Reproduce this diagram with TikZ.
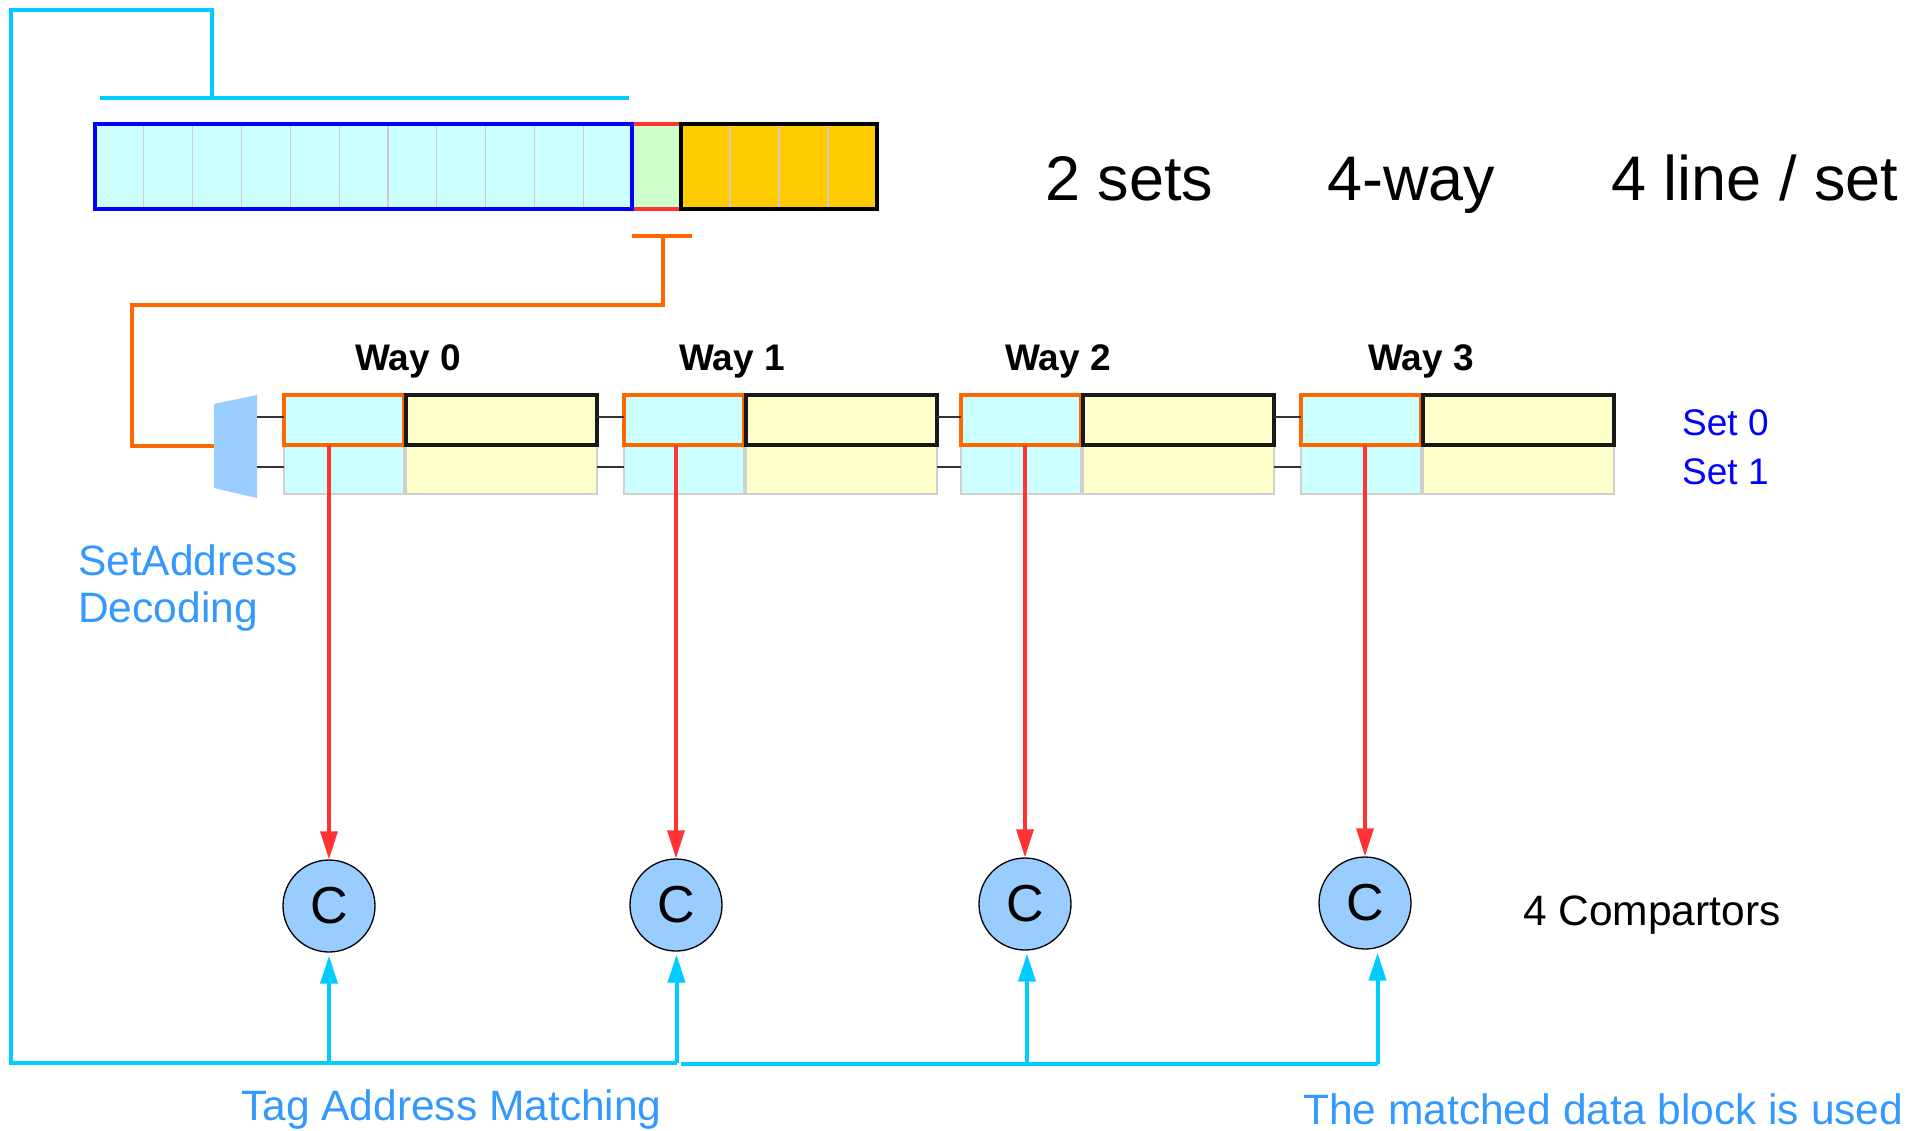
\documentclass[tikz,border=0pt]{standalone}
\usepackage{fontspec}
\setmainfont{Liberation Sans}
\usetikzlibrary{arrows.meta}
\definecolor{cyanline}{HTML}{00CCFF}
\definecolor{orangeline}{HTML}{FF6600}
\definecolor{redline}{HTML}{FF3333}
\definecolor{tagfill}{HTML}{CCFFFF}
\definecolor{datafill}{HTML}{FFFFCC}
\definecolor{setfill}{HTML}{CCFFCC}
\definecolor{offsfill}{HTML}{FFCC00}
\definecolor{decfill}{HTML}{99CCFF}
\definecolor{notetext}{HTML}{3399FF}
\definecolor{setblue}{HTML}{0000FF}
\definecolor{cellsep}{HTML}{D4C8CC}
\definecolor{faintedge}{HTML}{D0D0D0}

\begin{document}
\begin{tikzpicture}[x=1pt,y=-1pt,
  box/.style={rectangle,inner sep=0pt,outer sep=0pt},
  tagtop/.style={box,fill=tagfill,draw=orangeline,line width=3.8pt,minimum width=120pt,minimum height=50pt},
  datatop/.style={box,fill=datafill,draw=black!90,line width=4.2pt,minimum width=191pt,minimum height=50pt},
  taglow/.style={box,fill=tagfill,draw=faintedge,line width=1.5pt,minimum width=120pt,minimum height=49pt},
  datalow/.style={box,fill=datafill,draw=faintedge,line width=1.5pt,minimum width=191pt,minimum height=49pt},
  comparator/.style={circle,inner sep=0pt,minimum size=92pt,fill=decfill,draw=black,line width=1.3pt,
    font=\fontsize{52}{58}\selectfont},
  rowlink/.style={draw=black!80,line width=1.8pt},
  cyanwire/.style={draw=cyanline,line width=4pt},
  orangewire/.style={draw=orangeline,line width=3.8pt},
  redarrow/.style={draw=redline,line width=3.2pt,-{Triangle[length=28pt,width=17pt]}},
  cyanarrow/.style={draw=cyanline,line width=4pt,-{Triangle[length=28pt,width=17pt]},shorten >=3pt},
  label/.style={inner sep=0pt,anchor=base west},
  bigtext/.style={label,font=\fontsize{63}{70}\selectfont},
  notetxt/.style={label,text=notetext,font=\fontsize{42.5}{48}\selectfont},
  waylabel/.style={inner sep=0pt,anchor=base,font=\bfseries\fontsize{37}{42}\selectfont},
  setlabel/.style={label,text=setblue,font=\fontsize{37}{42}\selectfont}
]
\useasboundingbox (0,0) rectangle (1930,1130);

% ---- address register: tag | set | offset ----
\node[box,fill=setfill,minimum width=49pt,minimum height=85pt] (setfield) at (656.5,166.5) {};
\draw[redline,line width=4pt] (setfield.north west) -- (setfield.north east)
                              (setfield.south west) -- (setfield.south east);
\node[box,fill=tagfill,minimum width=537pt,minimum height=85pt] (tagfield) at (363.5,166.5) {};
\node[box,fill=offsfill,minimum width=196pt,minimum height=85pt] (offsfield) at (779,166.5) {};
\foreach \i in {1,...,10}
  \draw[cellsep,line width=1.2pt] ({95+48.82*\i},126) -- ({95+48.82*\i},207);
\foreach \xx in {730,779,828}
  \draw[cellsep,line width=1.2pt] (\xx,126) -- (\xx,207);
\draw[setblue,line width=4pt] (tagfield.north west) rectangle (tagfield.south east);
\draw[black,line width=4.2pt] (offsfield.north west) rectangle (offsfield.south east);

% ---- tag bus from the register to the comparators ----
\coordinate (tagbarL) at (100,98);
\coordinate (tagbarR) at (629,98);
\coordinate (tagtap) at (212,98);
\coordinate (topcorner) at (11,10);
\coordinate (botcorner) at (11,1063);
\coordinate (busA0) at (329,1063);
\coordinate (busA1) at (676.5,1063);
\coordinate (busB0) at (681,1064);
\coordinate (busB2) at (1027,1064);
\coordinate (busB3) at (1377.5,1064);
\draw[cyanwire] (tagbarL) -- (tagbarR);
\draw[cyanwire,line join=miter] (tagtap) -- (tagtap |- topcorner) -- (topcorner) -- (botcorner) -- (busA1);
\draw[cyanwire] (busB0) -- (busB3);

% ---- set index wire to the decoder ----
\coordinate (setbarL) at (632,236);
\coordinate (setbarR) at (692,236);
\coordinate (settap) at (663,236);
\coordinate (setbend) at (132,305);
\coordinate (decin) at (214,446);
\draw[orangewire] (setbarL) -- (setbarR);
\draw[orangewire,line join=miter] (settap) -- (settap |- setbend) -- (setbend) -- (setbend |- decin) -- (decin);

% ---- set decoder ----
\fill[decfill] (214,404) -- (257,395) -- (257,498) -- (214,488) -- cycle;
\coordinate (decout0) at (257,417);
\coordinate (decout1) at (257,467);

% ---- the four ways, two sets each ----
\foreach \k/\L in {0/284,1/624,2/961,3/1301} {
  \node[taglow]  (tag\k-1) at ({\L+60},469.5) {};
  \node[datalow] (dat\k-1) at ({\L+217.5},469.5) {};
  \node[tagtop]  (tag\k-0) at ({\L+60},420) {};
  \node[datatop] (dat\k-0) at ({\L+217.5},420) {};
}
\draw[rowlink] (decout0) -- ([yshift=3pt]tag0-0.west);
\draw[rowlink] (decout1) -- ([yshift=2.5pt]tag0-1.west);
\foreach \a/\b in {0/1,1/2,2/3} {
  \draw[rowlink] ([yshift=3pt]dat\a-0.east) -- ([yshift=3pt]tag\b-0.west);
  \draw[rowlink] ([yshift=2.5pt]dat\a-1.east) -- ([yshift=2.5pt]tag\b-1.west);
}

\node[waylabel] (way0) at (408,370) {Way 0};
\node[waylabel] (way1) at (732,370) {Way 1};
\node[waylabel] (way2) at (1058,370) {Way 2};
\node[waylabel] (way3) at (1421,370) {Way 3};
\node[setlabel] (set0) at (1682,435) {Set 0};
\node[setlabel] (set1) at (1682,484) {Set 1};

% ---- comparators ----
\node[comparator] (c0) at (329,906) {C};
\node[comparator] (c1) at (676,905) {C};
\node[comparator] (c2) at (1025,904) {C};
\node[comparator] (c3) at (1365,903) {C};

\foreach \k in {0,1,2,3}
  \draw[redarrow] (c\k.north |- tag\k-0.south) -- (c\k.north);

\draw[cyanarrow] (busA0) -- (busA0 |- c0.south);
\draw[cyanarrow] (busA1) -- (busA1 |- c1.south);
\draw[cyanarrow] (busB2) -- (busB2 |- c2.south);
\draw[cyanarrow] (busB3) -- (busB3 |- c3.south);

% ---- annotations ----
\node[bigtext] (nsets) at (1045,200) {2 sets};
\node[bigtext] (nways) at (1327,200) {4-way};
\node[bigtext] (nlines) at (1611,200) {4 line / set};
\node[notetxt] (decnote1) at (78,575) {SetAddress};
\node[notetxt] (decnote2) at (78,622) {Decoding};
\node[label,font=\fontsize{42.5}{48}\selectfont] (cmpnote) at (1523,925) {4 Compartors};
\node[notetxt] (tagnote) at (241,1120) {Tag Address Matching};
\node[notetxt] (usenote) at (1303,1124) {The matched data block is used};
\end{tikzpicture}
\end{document}
